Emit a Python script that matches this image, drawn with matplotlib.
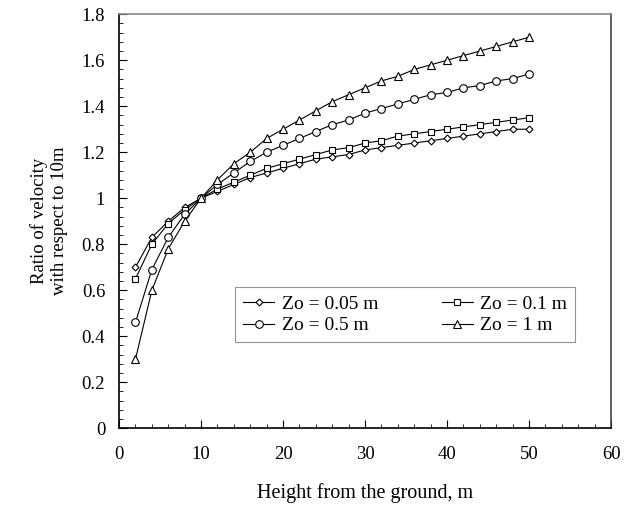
import numpy as np
import matplotlib.pyplot as plt
from matplotlib.ticker import MultipleLocator

plt.rcParams['font.family'] = ['Liberation Serif', 'DejaVu Serif']

# heights (m)
height = [2, 4, 6, 8, 10, 12, 14, 16, 18, 20, 22, 24, 26, 28, 30,
          32, 34, 36, 38, 40, 42, 44, 46, 48, 50]

# ratio of velocity w.r.t. 10 m
zo_005 = [0.70, 0.83, 0.90, 0.96, 1.00, 1.03, 1.06, 1.09, 1.11, 1.13, 1.15, 1.17, 1.18,
          1.19, 1.21, 1.22, 1.23, 1.24, 1.25, 1.26, 1.27, 1.28, 1.29, 1.30, 1.30]
zo_01 = [0.65, 0.80, 0.89, 0.95, 1.00, 1.04, 1.07, 1.10, 1.13, 1.15, 1.17, 1.19, 1.21,
         1.22, 1.24, 1.25, 1.27, 1.28, 1.29, 1.30, 1.31, 1.32, 1.33, 1.34, 1.35]
zo_05 = [0.46, 0.69, 0.83, 0.93, 1.00, 1.06, 1.11, 1.16, 1.20, 1.23, 1.26, 1.29, 1.32,
         1.34, 1.37, 1.39, 1.41, 1.43, 1.45, 1.46, 1.48, 1.49, 1.51, 1.52, 1.54]
zo_1 = [0.30, 0.60, 0.78, 0.90, 1.00, 1.08, 1.15, 1.20, 1.26, 1.30, 1.34, 1.38, 1.42,
        1.45, 1.48, 1.51, 1.53, 1.56, 1.58, 1.60, 1.62, 1.64, 1.66, 1.68, 1.70]

fig = plt.figure(figsize=(6.3, 5.08), dpi=100)
ax = fig.add_axes([0.189, 0.157, 0.781, 0.815])

style = dict(color='black', linewidth=0.8, markerfacecolor='white',
             markeredgecolor='black', markeredgewidth=0.8)
l1, = ax.plot(height, zo_005, marker='D', markersize=3.5, label='Zo = 0.05 m', **style)
l2, = ax.plot(height, zo_01, marker='s', markersize=5, label='Zo = 0.1 m', **style)
l3, = ax.plot(height, zo_05, marker='o', markersize=5.5, label='Zo = 0.5 m', **style)
l4, = ax.plot(height, zo_1, marker='^', markersize=5.5, label='Zo = 1 m', **style)

ax.set_xlim(0, 60)
ax.set_ylim(0, 1.8)
ax.xaxis.set_major_locator(MultipleLocator(10))
ax.xaxis.set_minor_locator(MultipleLocator(2))
ax.yaxis.set_minor_locator(MultipleLocator(0.04))
ax.set_yticks(np.arange(0, 1.81, 0.2))
ax.set_yticklabels(['0', '0.2', '0.4', '0.6', '0.8', '1', '1.2', '1.4', '1.6', '1.8'])
ax.tick_params(which='both', direction='in', labelsize=13.5, top=False, right=False)
ax.tick_params(which='major', length=6)
ax.tick_params(which='minor', length=3)
ax.tick_params(axis='x', pad=13)
ax.tick_params(axis='y', pad=10)

for s in ax.spines.values():
    s.set_linewidth(1.2)
ax.spines['top'].set_color('#888888')
ax.spines['right'].set_color('#444444')

ax.set_xlabel('Height from the ground, m', fontsize=14.5, labelpad=14)
ax.set_ylabel('Ratio of velocity\nwith respect to 10m', fontsize=13.5, labelpad=10)

leg = ax.legend(handles=[l1, l3, l2, l4], ncol=2, loc='upper left',
                bbox_to_anchor=(0.236, 0.34), fontsize=14, frameon=True,
                fancybox=False, edgecolor='#777777', handlelength=1.6,
                handletextpad=0.4, columnspacing=3.25, borderpad=0.4,
                labelspacing=0.2, borderaxespad=0)
leg.get_frame().set_linewidth(0.8)

fig.savefig('out.png', dpi=100)
